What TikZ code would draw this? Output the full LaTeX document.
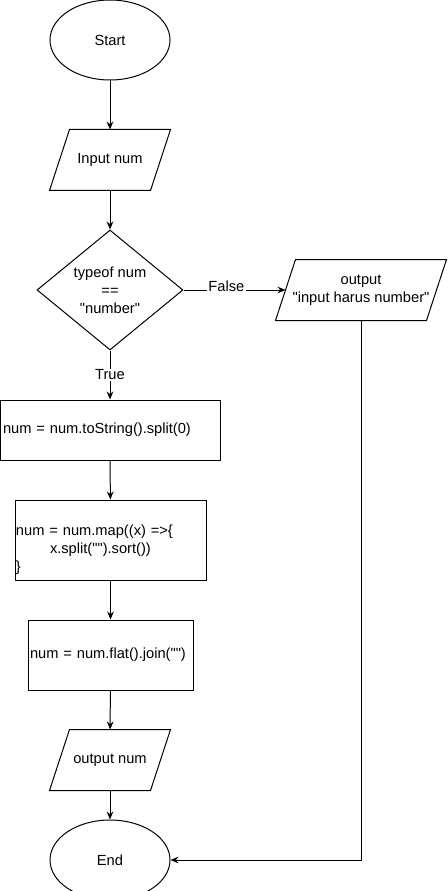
\documentclass[tikz,border=0pt]{standalone}
\usepackage{fontspec}
\newfontfamily\flujo{Liberation Sans}
\usetikzlibrary{
    shapes.geometric,
    arrows.meta
}
\tikzset{
    >={Stealth[length=6pt,width=5pt]},
    every node/.style={
        font=\flujo\fontsize{11pt}{13.5pt}\selectfont
    },
    terminal/.style={
        draw,
        ellipse,
        minimum width=90pt,
        minimum height=60pt,
        inner sep=0pt
    },
    datos/.style={
        rectangle,
        minimum width=75pt,
        minimum height=45pt,
        inner sep=0pt,
        align=center,
        append after command={
            \pgfextra{
                \draw ([xshift=7.5pt]\tikzlastnode.north west)
                    -- ([xshift=7.5pt]\tikzlastnode.north east)
                    -- ([xshift=-7.5pt]\tikzlastnode.south east)
                    -- ([xshift=-7.5pt]\tikzlastnode.south west)
                    -- cycle;
            }
        }
    },
    decision/.style={
        draw,
        diamond,
        minimum width=109.5pt,
        minimum height=90pt,
        inner sep=0pt,
        align=center
    },
    proceso/.style={
        draw,
        rectangle,
        align=left
    },
    etiqueta/.style={
        fill=white,
        inner sep=1pt
    }
}
\begin{document}
\begin{tikzpicture}[
    x=0.75pt,
    y=-0.75pt,
    line width=0.75pt
]
    \useasboundingbox (0,0) rectangle (447,891);

    % Nodos
    \node[terminal] (inicio)  at (110,40)    {Start};
    \node[datos]    (entrada) at (110,160)   {Input num};
    \node[decision] (tipo)    at (110,290)   {typeof num\\==\\"number"};
    \node[datos, minimum width=112.5pt]
                    (error)   at (361,290)   {output\\"input harus number"};
    \node[proceso,
          text width=160.5pt, inner xsep=2.25pt,
          minimum height=45pt]
                    (split)   at (110,430)   {num = num.toString().split(0)};
    \node[proceso,
          text width=141.75pt, inner xsep=0.75pt,
          minimum height=60pt]
                    (mapa)    at (110.5,540) {\mbox{}\\[9pt]num = num.map((x) =>\{\\\hspace*{25.5pt}x.split("").sort())\\\}};
    \node[proceso,
          text width=120.75pt, inner xsep=1.5pt,
          minimum height=52.5pt]
                    (plano)   at (110.5,655) {num = num.flat().join("")};
    \node[datos]    (salida)  at (110,760)   {output num};
    \node[terminal] (fin)     at (110,860)   {End};

    % Conexiones
    \draw[->] (inicio) -- (entrada);
    \draw[->] (entrada) -- (tipo);
    \draw[->] (tipo) -- node[etiqueta, pos=0.42, yshift=3pt] {False} (error);
    \draw[->] (tipo) -- node[etiqueta] {True} (split);
    \draw[->] (split) -- (mapa);
    \draw[->] (mapa) -- (plano);
    \draw[->] (plano) -- (salida);
    \draw[->] (salida) -- (fin);
    \draw[->] (error) |- (fin);

\end{tikzpicture}
\end{document}
